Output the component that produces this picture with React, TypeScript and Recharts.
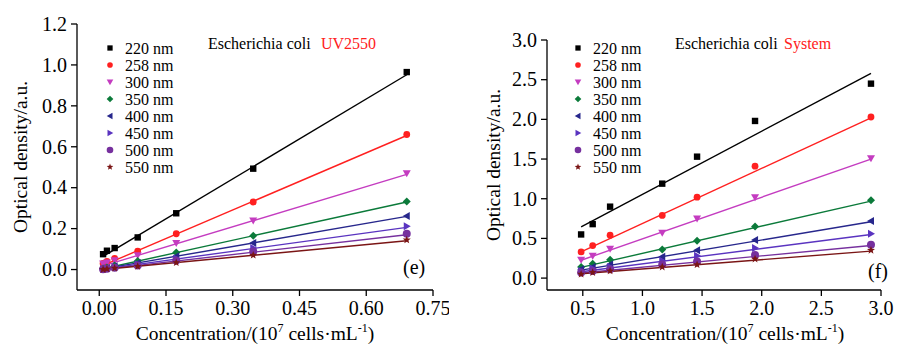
import React from "react";
import { ScatterChart, Scatter, XAxis, YAxis, Label } from "recharts";

// wavelengths shown in both legends
const wavelengths = ["220 nm", "258 nm", "300 nm", "350 nm", "400 nm", "450 nm", "500 nm", "550 nm"];

// panel (e): Escherichia coli, UV2550
const concE = [0.0086, 0.0173, 0.0346, 0.0864, 0.173, 0.346, 0.691];
const e220 = [0.075, 0.092, 0.105, 0.157, 0.275, 0.493, 0.965];
const e258 = [0.03, 0.04, 0.055, 0.09, 0.175, 0.33, 0.66];
const e300 = [0.03, 0.035, 0.045, 0.07, 0.13, 0.24, 0.47];
const e350 = [0.005, 0.01, 0.02, 0.042, 0.083, 0.165, 0.333];
const e400 = [0.004, 0.008, 0.016, 0.032, 0.065, 0.13, 0.262];
const e450 = [0.003, 0.006, 0.012, 0.026, 0.054, 0.105, 0.211];
const e500 = [0.001, 0.004, 0.009, 0.02, 0.044, 0.088, 0.175];
const e550 = [0.0, 0.003, 0.007, 0.015, 0.034, 0.07, 0.145];
const eFitStart = [0.064, 0.02, 0.018, 0.004, 0.003, 0.002, 0.001, 0.0];
const eFitEnd = [0.952, 0.655, 0.465, 0.33, 0.26, 0.206, 0.17, 0.141];
const eXTicks = [0, 0.15, 0.3, 0.45, 0.6, 0.75];
const eYTicks = [0, 0.2, 0.4, 0.6, 0.8, 1.0, 1.2];

// panel (f): Escherichia coli, System
const concF = [0.486, 0.583, 0.729, 1.166, 1.458, 1.944, 2.916];
const f220 = [0.55, 0.68, 0.9, 1.19, 1.53, 1.98, 2.45];
const f258 = [0.33, 0.41, 0.54, 0.79, 1.02, 1.41, 2.03];
const f300 = [0.23, 0.28, 0.37, 0.57, 0.75, 1.02, 1.51];
const f350 = [0.14, 0.18, 0.23, 0.36, 0.47, 0.65, 0.98];
const f400 = [0.11, 0.14, 0.17, 0.27, 0.35, 0.48, 0.72];
const f450 = [0.09, 0.12, 0.14, 0.22, 0.28, 0.38, 0.56];
const f500 = [0.07, 0.09, 0.11, 0.17, 0.21, 0.29, 0.42];
const f550 = [0.05, 0.07, 0.09, 0.14, 0.17, 0.24, 0.35];
const fFitStart = [0.645, 0.33, 0.225, 0.135, 0.1, 0.08, 0.065, 0.055];
const fFitEnd = [2.58, 2.02, 1.5, 0.97, 0.71, 0.55, 0.41, 0.34];
const fXTicks = [0.5, 1.0, 1.5, 2.0, 2.5, 3.0];
const fYTicks = [0, 0.5, 1.0, 1.5, 2.0, 2.5, 3.0];

const colors = ["#000000", "#ff2020", "#c43cc0", "#0b7a3a", "#27278c", "#5a34c0", "#76309e", "#7a1515"];
const markers = ["square", "circle", "down", "diamond", "left", "right", "hex", "star"];
const FONT = "'Liberation Serif', 'Times New Roman', serif";

function Marker({ kind, cx, cy, fill, r }: any) {
  if (cx == null || cy == null) return <g />;
  switch (kind) {
    case "square":
      return <rect x={cx - r * 0.8} y={cy - r * 0.8} width={r * 1.6} height={r * 1.6} fill={fill} />;
    case "circle":
      return <circle cx={cx} cy={cy} r={r * 0.85} fill={fill} />;
    case "down":
      return <polygon points={`${cx - r},${cy - r * 0.75} ${cx + r},${cy - r * 0.75} ${cx},${cy + r}`} fill={fill} />;
    case "diamond":
      return <polygon points={`${cx},${cy - r} ${cx + r},${cy} ${cx},${cy + r} ${cx - r},${cy}`} fill={fill} />;
    case "left":
      return <polygon points={`${cx - r},${cy} ${cx + r * 0.75},${cy - r} ${cx + r * 0.75},${cy + r}`} fill={fill} />;
    case "right":
      return <polygon points={`${cx + r},${cy} ${cx - r * 0.75},${cy - r} ${cx - r * 0.75},${cy + r}`} fill={fill} />;
    case "hex":
      return <circle cx={cx} cy={cy} r={r} fill={fill} />;
    case "star": {
      const pts: string[] = [];
      for (let i = 0; i < 10; i++) {
        const rr = i % 2 === 0 ? r * 1.05 : r * 0.45;
        const a = -Math.PI / 2 + (i * Math.PI) / 5;
        pts.push(`${cx + rr * Math.cos(a)},${cy + rr * Math.sin(a)}`);
      }
      return <polygon points={pts.join(" ")} fill={fill} />;
    }
    default:
      return <g />;
  }
}

const XTick = ({ x, y, payload, digits }: any) => (
  <text x={x} y={y} dy="0.8em" textAnchor="middle" fill="#000" style={{ fontFamily: FONT, fontSize: 20 }}>
    {Number(payload.value).toFixed(digits)}
  </text>
);

const YTick = ({ x, y, payload }: any) => (
  <text x={x} y={y} dy="0.34em" textAnchor="end" fill="#000" style={{ fontFamily: FONT, fontSize: 20 }}>
    {Number(payload.value).toFixed(1)}
  </text>
);

const XLabel = ({ viewBox, dx }: any) => {
  const cx = viewBox.x + viewBox.width / 2 + dx;
  const y = viewBox.y + 50;
  return (
    <text x={cx} y={y} textAnchor="middle" style={{ fontFamily: FONT, fontSize: 19.5 }} fill="#000">
      Concentration/(10
      <tspan dy={-8} style={{ fontSize: 12 }}>7</tspan>
      <tspan dy={8}> cells·mL</tspan>
      <tspan dy={-8} style={{ fontSize: 12 }}>-1</tspan>
      <tspan dy={8}>)</tspan>
    </text>
  );
};

const YLabel = ({ cx, plotTop, plotBottom }: any) => {
  const cy = (plotTop + plotBottom) / 2;
  return (
    <text
      x={cx}
      y={cy}
      textAnchor="middle"
      dominantBaseline="central"
      transform={`rotate(-90, ${cx}, ${cy})`}
      style={{ fontFamily: FONT, fontSize: 19.5 }}
      fill="#000"
    >
      Optical density/a.u.
    </text>
  );
};

interface PanelProps {
  conc: number[];
  series: number[][];
  fitStart: number[];
  fitEnd: number[];
  xDomain: [number, number];
  yDomain: [number, number];
  xTicks: number[];
  yTicks: number[];
  xDigits: number;
  yAxisWidth: number;
  top: number;
  right: number;
  xLabelDx: number;
  yLabelX: number;
}

const Panel: React.FC<PanelProps> = (p) => {
  const W = 449;
  const H = 345;
  const plotBottom = 290;
  return (
    <ScatterChart
      width={W}
      height={H}
      margin={{ top: p.top, right: p.right, bottom: H - plotBottom - 55, left: 0 }}
      style={{ fontFamily: FONT }}
    >
      <XAxis
        type="number"
        dataKey="x"
        domain={p.xDomain}
        ticks={p.xTicks}
        allowDataOverflow
        tick={(props: any) => <XTick {...props} digits={p.xDigits} />}
        tickSize={6}
        tickMargin={3}
        height={55}
        stroke="#000"
        strokeWidth={1.3}
      >
        <Label content={(props: any) => <XLabel {...props} dx={p.xLabelDx} />} />
      </XAxis>
      <YAxis
        type="number"
        dataKey="y"
        domain={p.yDomain}
        ticks={p.yTicks}
        allowDataOverflow
        tick={(props: any) => <YTick {...props} />}
        tickSize={6}
        tickMargin={4}
        width={p.yAxisWidth}
        stroke="#000"
        strokeWidth={1.3}
      >
        <Label content={(props: any) => <YLabel {...props} cx={p.yLabelX} plotTop={p.top} plotBottom={plotBottom} />} />
      </YAxis>
      {p.series.map((vals, i) => (
        <Scatter
          key={`fit-${i}`}
          data={[
            { x: p.conc[0], y: p.fitStart[i] },
            { x: p.conc[p.conc.length - 1], y: p.fitEnd[i] },
          ]}
          line={{ stroke: colors[i], strokeWidth: 1.4 }}
          shape={() => <g />}
          isAnimationActive={false}
        />
      ))}
      {p.series.map((vals, i) => (
        <Scatter
          key={`pts-${i}`}
          data={vals.map((y, j) => ({ x: p.conc[j], y }))}
          shape={(s: any) => <Marker kind={markers[i]} cx={s.cx} cy={s.cy} fill={colors[i]} r={4} />}
          isAnimationActive={false}
        />
      ))}
    </ScatterChart>
  );
};

const Overlay: React.FC<{
  legendX: number;
  titleX: number;
  suffixX: number;
  suffix: string;
  letter: string;
  letterX: number;
  letterY: number;
}> = (o) => (
  <g fill="#000">
    {wavelengths.map((w, i) => (
      <g key={w}>
        <Marker kind={markers[i]} cx={o.legendX} cy={48 + i * 17} fill={colors[i]} r={3.3} />
        <text x={o.legendX + 15} y={53.5 + i * 17} style={{ fontFamily: FONT, fontSize: 16 }}>
          {w}
        </text>
      </g>
    ))}
    <text x={o.titleX} y={49} style={{ fontFamily: FONT, fontSize: 16 }}>
      Escherichia coli
    </text>
    <text x={o.suffixX} y={49} style={{ fontFamily: FONT, fontSize: 16 }} fill="#ff2020">
      {o.suffix}
    </text>
    <text x={o.letterX} y={o.letterY} style={{ fontFamily: FONT, fontSize: 20 }}>
      {o.letter}
    </text>
  </g>
);

export default function App() {
  return (
    <div
      className="od-figure"
      style={{ position: "absolute", left: 0, top: 0, width: 898, height: 345, background: "#fff", fontFamily: FONT }}
    >
      <style>{`.od-figure text, .od-figure tspan { font-family: 'Liberation Serif', 'Times New Roman', serif !important; }`}</style>
      <div style={{ position: "absolute", left: 0, top: 0 }}>
        <Panel
          conc={concE}
          series={[e220, e258, e300, e350, e400, e450, e500, e550]}
          fitStart={eFitStart}
          fitEnd={eFitEnd}
          xDomain={[-0.05, 0.75]}
          yDomain={[-0.1, 1.2]}
          xTicks={eXTicks}
          yTicks={eYTicks}
          xDigits={2}
          yAxisWidth={77}
          top={24}
          right={16}
          xLabelDx={0}
          yLabelX={20}
        />
      </div>
      <div style={{ position: "absolute", left: 449, top: 0 }}>
        <Panel
          conc={concF}
          series={[f220, f258, f300, f350, f400, f450, f500, f550]}
          fitStart={fFitStart}
          fitEnd={fFitEnd}
          xDomain={[0.2, 3.0]}
          yDomain={[-0.15, 3.0]}
          xTicks={fXTicks}
          yTicks={fYTicks}
          xDigits={1}
          yAxisWidth={98}
          top={40}
          right={17}
          xLabelDx={11}
          yLabelX={44}
        />
      </div>
      <svg width={898} height={345} style={{ position: "absolute", left: 0, top: 0, pointerEvents: "none" }}>
        <Overlay legendX={110} titleX={208} suffixX={321} suffix="UV2550" letter="(e)" letterX={403} letterY={274} />
        <Overlay legendX={578} titleX={675} suffixX={784} suffix="System" letter="(f)" letterX={868} letterY={278} />
      </svg>
    </div>
  );
}
